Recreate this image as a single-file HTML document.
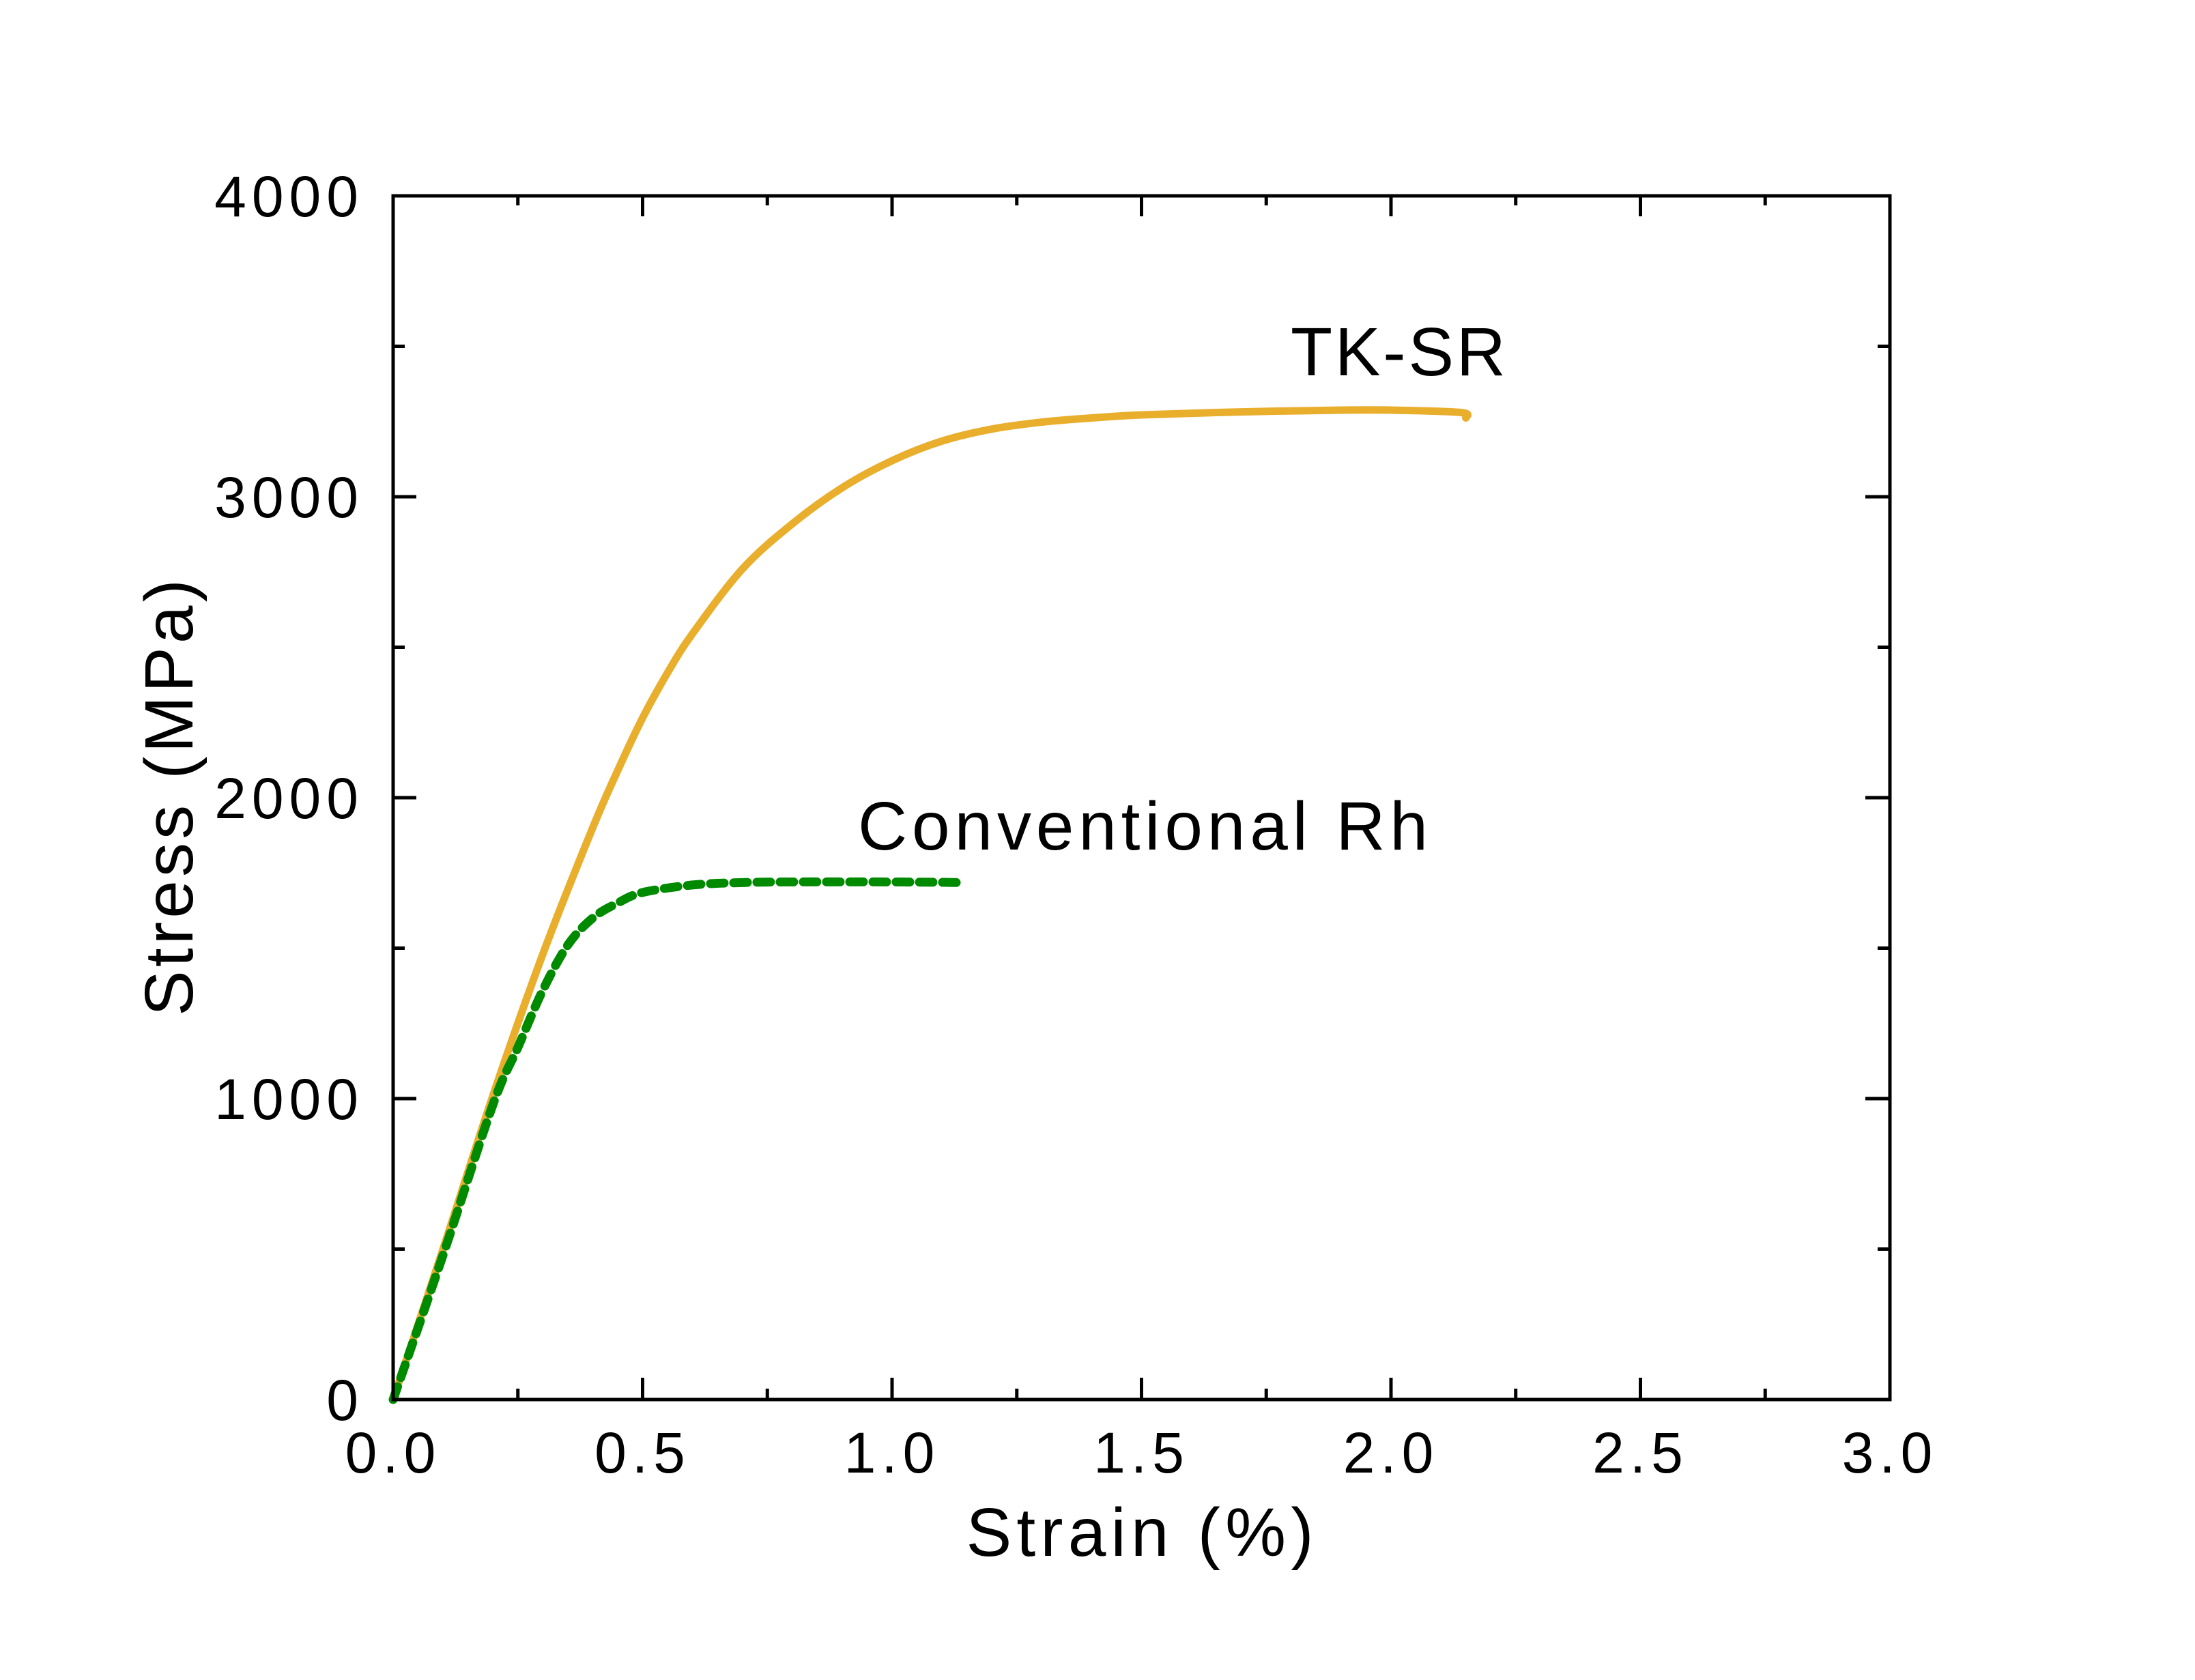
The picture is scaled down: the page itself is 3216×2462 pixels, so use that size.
<!DOCTYPE html>
<html><head><meta charset="utf-8"><style>
html,body{margin:0;padding:0;background:#fff;}
svg{display:block;font-family:"Liberation Sans",sans-serif;}
</style></head><body>
<svg id="chart" width="3216" height="2462" viewBox="0 0 3216 2462" xmlns="http://www.w3.org/2000/svg">
<rect x="0" y="0" width="3216" height="2462" fill="#fff"/>
<g id="marks"></g>
<g id="axes"></g>
</svg>
<script>
const xTicks = [0, 0.5, 1.0, 1.5, 2.0, 2.5, 3.0];
const xTickLabels = ["0.0", "0.5", "1.0", "1.5", "2.0", "2.5", "3.0"];
const yTicks = [0, 1000, 2000, 3000, 4000];
const yTickLabels = ["0", "1000", "2000", "3000", "4000"];
const tkStrain = [0, 0.1, 0.2, 0.3, 0.4, 0.45, 0.5, 0.55, 0.6, 0.7, 0.8, 0.9, 1.0, 1.1, 1.2, 1.3, 1.4, 1.5, 1.7, 1.9, 2.0, 2.14, 2.15];
const tkStress = [0, 500, 1010, 1480, 1900, 2090, 2265, 2415, 2545, 2760, 2910, 3030, 3120, 3185, 3225, 3248, 3262, 3272, 3282, 3288, 3288, 3280, 3262];
const rhStrain = [0, 0.1, 0.2, 0.25, 0.3, 0.35, 0.4, 0.45, 0.5, 0.6, 0.7, 0.8, 1.0, 1.14];
const rhStress = [0, 480, 980, 1170, 1360, 1510, 1600, 1650, 1685, 1710, 1718, 1720, 1720, 1718];

const L = 576, R = 2769, T = 287, B = 2051;
const xS = v => L + (v - 0) / 3 * (R - L);
const yS = v => B - v / 4000 * (B - T);
const NS = "http://www.w3.org/2000/svg";
const marks = document.getElementById('marks');
const axes = document.getElementById('axes');
function mk(tag, attrs, parent) {
  const e = document.createElementNS(NS, tag);
  for (const k in attrs) e.setAttribute(k, attrs[k]);
  parent.appendChild(e);
  return e;
}
function pathFrom(xs, ys) {
  const p = xs.map((x, i) => [xS(x), yS(ys[i])]);
  let d = 'M' + p[0][0].toFixed(1) + ',' + p[0][1].toFixed(1);
  for (let i = 0; i < p.length - 1; i++) {
    const p0 = p[Math.max(0, i - 1)], p1 = p[i], p2 = p[i + 1], p3 = p[Math.min(p.length - 1, i + 2)];
    const c1 = [p1[0] + (p2[0] - p0[0]) / 6, p1[1] + (p2[1] - p0[1]) / 6];
    const c2 = [p2[0] - (p3[0] - p1[0]) / 6, p2[1] - (p3[1] - p1[1]) / 6];
    d += ' C' + c1[0].toFixed(1) + ',' + c1[1].toFixed(1) + ' ' + c2[0].toFixed(1) + ',' + c2[1].toFixed(1) + ' ' + p2[0].toFixed(1) + ',' + p2[1].toFixed(1);
  }
  return d;
}
const tk = mk('path', {d: pathFrom(tkStrain, tkStress), fill: 'none', stroke: '#e8ae2c', 'stroke-width': 11, 'stroke-linejoin': 'round', 'stroke-linecap': 'round'}, marks);


const rh = mk('path', {d: pathFrom(rhStrain, rhStress), fill: 'none', stroke: '#008a00', 'stroke-width': 13, 'stroke-dasharray': '20 14', 'stroke-linecap': 'round'}, marks);



const fr = mk('rect', {x: L, y: T, width: R - L, height: B - T, fill: 'none', stroke: '#000', 'stroke-width': 5}, axes);


for (let i = 0; i < xTicks.length; i++) {
  const x = xS(xTicks[i]);
  mk('line', {x1: x, y1: B, x2: x, y2: B - 32, stroke: '#000', 'stroke-width': 5}, axes);
  mk('line', {x1: x, y1: T, x2: x, y2: T + 30, stroke: '#000', 'stroke-width': 5}, axes);
  if (i < xTicks.length - 1) {
    const xm = xS(xTicks[i] + 0.25);
    mk('line', {x1: xm, y1: B, x2: xm, y2: B - 16, stroke: '#000', 'stroke-width': 5}, axes);
    mk('line', {x1: xm, y1: T, x2: xm, y2: T + 14, stroke: '#000', 'stroke-width': 5}, axes);
  }
  const t = mk('text', {x: x, y: 2158, 'text-anchor': 'middle', 'font-size': 84, 'letter-spacing': 8, fill: '#000'}, axes);
  t.textContent = xTickLabels[i];
  
  
}
for (let i = 0; i < yTicks.length; i++) {
  const y = yS(yTicks[i]);
  mk('line', {x1: L, y1: y, x2: L + 34, y2: y, stroke: '#000', 'stroke-width': 5}, axes);
  mk('line', {x1: R, y1: y, x2: R - 36, y2: y, stroke: '#000', 'stroke-width': 5}, axes);
  if (i < yTicks.length - 1) {
    const ym = yS(yTicks[i] + 500);
    mk('line', {x1: L, y1: ym, x2: L + 17, y2: ym, stroke: '#000', 'stroke-width': 5}, axes);
    mk('line', {x1: R, y1: ym, x2: R - 18, y2: ym, stroke: '#000', 'stroke-width': 5}, axes);
  }
  const t = mk('text', {x: 533, y: y + 30, 'text-anchor': 'end', 'font-size': 84, 'letter-spacing': 8, fill: '#000'}, axes);
  t.textContent = yTickLabels[i];
  
  
}
</script>
<svg style="position:absolute;left:0;top:0" width="3216" height="2462">
<text x="1670" y="2280" text-anchor="middle" font-family="Liberation Sans, sans-serif" font-size="100" textLength="509" fill="#000">Strain (%)</text>
<text transform="translate(282,1169) rotate(-90)" text-anchor="middle" font-family="Liberation Sans, sans-serif" font-size="100" textLength="640" fill="#000">Stress (MPa)</text>
<text x="1891" y="550" font-family="Liberation Sans, sans-serif" font-size="100" textLength="315" fill="#000">TK-SR</text>
<text x="1257" y="1245" font-family="Liberation Sans, sans-serif" font-size="100" textLength="835" fill="#000">Conventional Rh</text>
</svg>
</body></html>
